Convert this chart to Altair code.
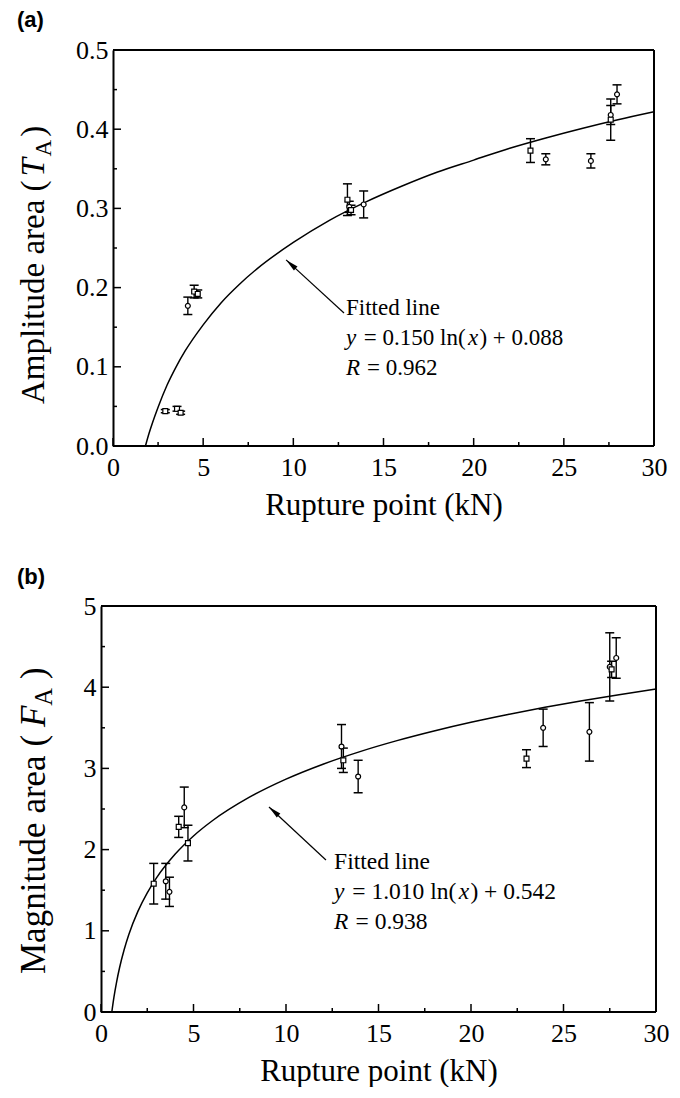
import altair as alt
import pandas as pd

SERIF = "Liberation Serif"
SANS = "Liberation Sans"

# ---------------- panel (a) data ----------------
a_x = [2.9, 3.55, 3.75, 4.15, 4.5, 4.7, 13.0, 13.1, 13.2, 13.9, 23.15, 24.0, 26.5, 27.6, 27.6, 27.95]
a_y = [0.044, 0.047, 0.042, 0.177, 0.195, 0.192, 0.311, 0.302, 0.298, 0.305, 0.373, 0.362, 0.360, 0.418, 0.412, 0.444]
a_err = [0.002, 0.003, 0.002, 0.011, 0.008, 0.005, 0.020, 0.007, 0.006, 0.017, 0.015, 0.007, 0.009, 0.012, 0.026, 0.012]
a_shape = ["square", "square", "square", "circle", "square", "square", "square", "circle",
           "square", "circle", "square", "circle", "circle", "circle", "square", "circle"]
a_curve_x = [1.8, 2.0, 2.2, 2.5, 3, 3.5, 4, 5, 6, 7, 8, 10, 12, 14, 16, 18, 20, 22, 24, 26, 28, 30]
a_curve_y = [0.000, 0.016, 0.030, 0.049, 0.077, 0.100, 0.120, 0.153, 0.181, 0.204, 0.224, 0.257,
             0.285, 0.308, 0.328, 0.346, 0.361, 0.376, 0.389, 0.401, 0.412, 0.422]
a_y_major = [0.0, 0.1, 0.2, 0.3, 0.4, 0.5]
a_y_minor = [0.05, 0.15, 0.25, 0.35, 0.45]
a_ytitle = ["Amplitude area (", "T", "A", ")"]
a_eq = ["y", "= 0.150 ln(", "x", ") + 0.088"]
a_r = ["R", "= 0.962"]
a_ann_anchor = [12.92, 0.174]
a_arrow = [12.81, 0.168, 9.60, 0.235]

# ---------------- panel (b) data ----------------
b_x = [2.85, 3.5, 3.7, 4.2, 4.5, 4.7, 13.0, 13.1, 13.9, 23.0, 23.9, 26.4, 27.5, 27.6, 27.85]
b_y = [1.58, 1.61, 1.48, 2.28, 2.52, 2.08, 3.27, 3.10, 2.90, 3.12, 3.50, 3.45, 4.25, 4.22, 4.36]
b_err = [0.25, 0.22, 0.18, 0.13, 0.25, 0.22, 0.27, 0.15, 0.20, 0.11, 0.23, 0.36, 0.42, 0.10, 0.25]
b_shape = ["square", "circle", "circle", "square", "circle", "square", "circle", "square",
           "circle", "square", "circle", "circle", "circle", "square", "circle"]
b_curve_x = [0.585, 0.7, 0.85, 1.0, 1.25, 1.5, 2, 2.5, 3, 4, 5, 6, 8, 10, 12, 14, 16, 18, 20, 22,
             24, 26, 28, 30]
b_curve_y = [0.000, 0.182, 0.378, 0.542, 0.767, 0.952, 1.242, 1.467, 1.652, 1.942, 2.168, 2.352,
             2.642, 2.868, 3.052, 3.207, 3.342, 3.461, 3.568, 3.664, 3.752, 3.833, 3.908, 3.977]
b_y_major = [0, 1, 2, 3, 4, 5]
b_y_minor = [0.5, 1.5, 2.5, 3.5, 4.5]
b_ytitle = ["Magnitude area (", "F", "A", ")"]
b_eq = ["y", "= 1.010 ln(", "x", ") + 0.542"]
b_r = ["R", "= 0.938"]
b_ann_anchor = [12.6, 1.85]
b_arrow = [12.16, 1.872, 9.08, 2.525]

x_major = [0, 5, 10, 15, 20, 25, 30]
x_minor = [2.5, 7.5, 12.5, 17.5, 22.5, 27.5]
x_title = "Rupture point (kN)"
fit_label = "Fitted line"

ARROW_PATH = "M0,0L0.33,1.6L-0.33,1.6Z"


def txt(s, **kw):
    return alt.Chart(pd.DataFrame({"t": [s]})).mark_text(color="black", **kw)


def panel(px, py, perr, pshape, cx, cy, ymaj, ymin, ydom, yfmt, PW, H, OFF, letter, lpos,
          ytitle, ytx, yty, yfs, ygap, ann_anchor, eq, rr, afs, arrow):
    # OFF: pixels of blank space left of the plot frame inside the view
    W = PW + OFF
    xlo = -OFF * 30.0 / PW
    xs = alt.Scale(domain=[xlo, 30], nice=False, zero=False)
    ys = alt.Scale(domain=ydom, nice=False, zero=False)
    xaxis = alt.Axis(values=x_major, title=x_title, domain=False, titleX=OFF + PW / 2.0)
    yaxis = alt.Axis(values=ymaj, format=yfmt, title=None, offset=-OFF)

    def X(f):
        return alt.X(f, scale=xs, axis=xaxis)

    def Y(f):
        return alt.Y(f, scale=ys, axis=yaxis)

    curve = alt.Chart(pd.DataFrame({"x": cx, "y": cy})).mark_line(
        color="black", strokeWidth=1.5, interpolate="monotone").encode(x=X("x:Q"), y=Y("y:Q"))

    pts = pd.DataFrame({"x": px, "y": py, "lo": [a - b for a, b in zip(py, perr)],
                        "hi": [a + b for a, b in zip(py, perr)], "s": pshape})
    bars = alt.Chart(pts).mark_rule(color="black", strokeWidth=1.4).encode(
        x=X("x:Q"), y=Y("lo:Q"), y2="hi:Q")
    caps_df = pd.DataFrame({"x": list(px) * 2, "v": list(pts["lo"]) + list(pts["hi"])})
    caps = alt.Chart(caps_df).mark_tick(orient="horizontal", size=9, thickness=1.5,
                                        color="black", opacity=1).encode(x=X("x:Q"), y=Y("v:Q"))
    marks = alt.Chart(pts).mark_point(filled=True, fill="white", stroke="black",
                                      strokeWidth=1.2, size=24, opacity=1).encode(
        x=X("x:Q"), y=Y("y:Q"),
        shape=alt.Shape("s:N", scale=alt.Scale(domain=["square", "circle"],
                                               range=["square", "circle"]), legend=None))

    # frame: top, bottom, right (left side is the y-axis domain)
    fr = pd.DataFrame({"x": [x_major[0]], "x2": [x_major[-1]]})
    top = alt.Chart(fr).mark_rule(color="black", strokeWidth=2).encode(
        x=X("x:Q"), x2="x2:Q", y=alt.value(0))
    bot = alt.Chart(fr).mark_rule(color="black", strokeWidth=2).encode(
        x=X("x:Q"), x2="x2:Q", y=alt.value(H))
    right = alt.Chart(fr).mark_rule(color="black", strokeWidth=2).encode(
        x=X("x2:Q"), y=alt.value(0), y2=alt.value(H))

    xmj = alt.Chart(pd.DataFrame({"x": x_major})).mark_rule(color="black", strokeWidth=1.5).encode(
        x=X("x:Q"), y=alt.value(H), y2=alt.value(H - 8))
    xmn = alt.Chart(pd.DataFrame({"x": x_minor})).mark_rule(color="black", strokeWidth=1.5).encode(
        x=X("x:Q"), y=alt.value(H), y2=alt.value(H - 4))
    ymj = alt.Chart(pd.DataFrame({"y": ymaj})).mark_rule(color="black", strokeWidth=1.5).encode(
        y=Y("y:Q"), x=alt.value(OFF), x2=alt.value(OFF + 8))
    ymn = alt.Chart(pd.DataFrame({"y": ymin})).mark_rule(color="black", strokeWidth=1.5).encode(
        y=Y("y:Q"), x=alt.value(OFF), x2=alt.value(OFF + 4))

    lab = txt(letter, font=SANS, fontSize=22, fontWeight="bold", align="left",
              baseline="middle").encode(text="t:N", x=alt.value(lpos[0]), y=alt.value(lpos[1]))

    # rotated y title, pieces laid out bottom -> top
    F = yfs
    y1 = yty
    y2 = y1 - 6.80 * F - ygap
    y3 = y2 - 0.61 * F
    y4 = y3 - 0.72 * 0.7 * F - ygap
    common = dict(angle=270, align="left", baseline="middle", font=SERIF)
    t1 = txt(ytitle[0], fontSize=F, **common).encode(text="t:N", x=alt.value(ytx), y=alt.value(y1))
    t2 = txt(ytitle[1], fontSize=F, fontStyle="italic", **common).encode(
        text="t:N", x=alt.value(ytx), y=alt.value(y2))
    t3 = txt(ytitle[2], fontSize=0.7 * F, **common).encode(
        text="t:N", x=alt.value(ytx + 0.3 * F), y=alt.value(y3))
    t4 = txt(ytitle[3], fontSize=F, **common).encode(text="t:N", x=alt.value(ytx), y=alt.value(y4))

    # annotation
    ax, ay = ann_anchor
    A = afs
    ann_df = pd.DataFrame({"x": [ax], "y": [ay]})

    def ann(s, dx, dy, italic=False):
        kw = dict(font=SERIF, fontSize=A, align="left", baseline="middle", dx=dx, dy=dy,
                  color="black")
        if italic:
            kw["fontStyle"] = "italic"
        return alt.Chart(ann_df).mark_text(text=s, **kw).encode(x=X("x:Q"), y=Y("y:Q"))

    a1 = ann(fit_label, 0, 0)
    e1 = ann(eq[0], 0, 30, True)
    e2 = ann(eq[1], (0.444 + 0.33) * A, 30)
    e3 = ann(eq[2], 5.30 * A, 30, True)
    e4 = ann(eq[3], 5.80 * A, 30)
    r1 = ann(rr[0], 0, 60, True)
    r2 = ann(rr[1], (0.611 + 0.30) * A, 60)

    arr_df = pd.DataFrame({"x": [arrow[0]], "y": [arrow[1]], "x2": [arrow[2]], "y2": [arrow[3]]})
    arr_line = alt.Chart(arr_df).mark_rule(color="black", strokeWidth=1.2).encode(
        x=X("x:Q"), y=Y("y:Q"), x2="x2:Q", y2="y2:Q")
    arr_head = alt.Chart(arr_df).mark_point(shape=ARROW_PATH, filled=True, color="black",
                                            size=260, angle=312, opacity=1).encode(
        x=X("x2:Q"), y=Y("y2:Q"))

    return alt.layer(curve, top, bot, right, bars, caps, marks, xmj, xmn, ymj, ymn, lab,
                     t1, t2, t3, t4, a1, e1, e2, e3, e4, r1, r2, arr_line, arr_head).properties(
        width=W, height=H, view=alt.ViewBackground(stroke="transparent"))


pa = panel(a_x, a_y, a_err, a_shape, a_curve_x, a_curve_y, a_y_major, a_y_minor, [0, 0.5], ".1f",
           541, 396, 12, "(a)", (-84, -30), a_ytitle, -67, 354, 33, 3, a_ann_anchor, a_eq, a_r, 23,
           a_arrow)
pb = panel(b_x, b_y, b_err, b_shape, b_curve_x, b_curve_y, b_y_major, b_y_minor, [0, 5], "d",
           555, 406, 0, "(b)", (-84, -29), b_ytitle, -67, 368, 35, 9, b_ann_anchor, b_eq, b_r, 23.5,
           b_arrow)

chart = alt.vconcat(pa, pb, spacing=44).properties(
    padding={"left": 8, "top": 0, "right": 0, "bottom": 0}, background="white"
).configure_view(stroke="transparent").configure_axis(
    grid=False, ticks=False, tickSize=0, domainColor="black", domainWidth=2,
    labelFont=SERIF, labelFontSize=26, labelColor="black", labelPadding=8, labelFlush=False,
    titleFont=SERIF, titleFontSize=31, titleFontWeight="normal", titleColor="black",
    titlePadding=10
).configure_axisLeft(labelPadding=5)

chart.save("out.html", embed_options={"renderer": "svg", "actions": False})
